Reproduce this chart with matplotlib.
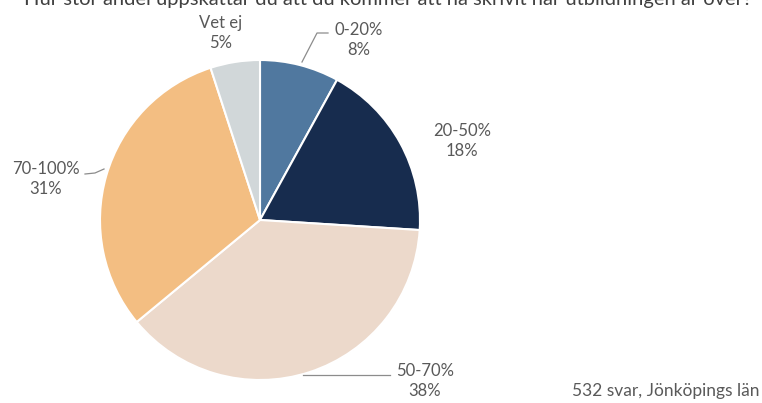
import matplotlib
matplotlib.use("Agg")
import matplotlib.pyplot as plt

categories = ["0-20%", "20-50%", "50-70%", "70-100%", "Vet ej"]
values = [8, 18, 38, 31, 5]
colors = ["#50789F", "#172C4E", "#ECD9CB", "#F3BE82", "#D1D7D9"]
title = "Hur stor andel uppskattar du att du kommer att ha skrivit när utbildningen är över?"
note = "532 svar, Jönköpings län"

plt.rcParams['font.family'] = ['Lato', 'DejaVu Sans']
W, H = 762, 403
fig = plt.figure(figsize=(W / 100, H / 100), dpi=100)
ax = fig.add_axes([0, 0, 1, 1])

cx, cy, r = 260, H - 220, 160
ax.pie(values, colors=colors, startangle=90, counterclock=False,
       center=(cx, cy), radius=r, frame=True,
       wedgeprops=dict(edgecolor='white', linewidth=1.5))
ax.set_xlim(0, W)
ax.set_ylim(0, H)
ax.set_aspect('auto')
ax.axis('off')

tc = '#595959'
fs = 12
# label layout (pixel coordinates, top-origin)
label_pos = {
    "0-20%": (359, 40),
    "20-50%": (462, 141),
    "50-70%": (425, 381),
    "70-100%": (46, 179),
    "Vet ej": (221, 33),
}
for cat, v in zip(categories, values):
    x, y = label_pos[cat]
    ax.text(x, H - y, f"{cat}\n{v}%", ha='center', va='center', fontsize=fs,
            color=tc, linespacing=1.35)

lc = '#8C8C8C'
# leader lines
ax.plot([302, 317, 328], [H - 62, H - 33, H - 33], color=lc, lw=0.9)
ax.plot([303, 390], [H - 375, H - 375], color=lc, lw=0.9)
ax.plot([85, 95, 104], [H - 174, H - 173, H - 169], color=lc, lw=0.9)

ax.text(759, H - 391, note, ha='right', va='center', fontsize=fs + 0.5, color=tc)

fig.text(752 / W, (H - 5) / H, title, ha='right', va='baseline',
         fontsize=14.5, color='#404040')

fig.savefig("out.png", dpi=100)
